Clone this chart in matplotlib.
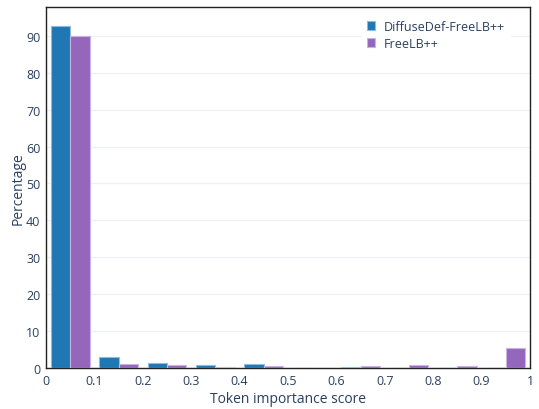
import matplotlib
matplotlib.use("Agg")
import matplotlib.pyplot as plt
import numpy as np

bin_edges = [0.0, 0.1, 0.2, 0.3, 0.4, 0.5, 0.6, 0.7, 0.8, 0.9, 1.0]
series_names = ["DiffuseDef-FreeLB++", "FreeLB++"]
diffusedef = [92.7, 3.0, 1.4, 0.85, 0.95, 0.0, 0.4, 0.0, 0.0, 0.0]
freelb = [90.0, 1.0, 0.8, 0.4, 0.45, 0.0, 0.55, 0.7, 0.55, 5.3]
tick_vals = [0, 0.1, 0.2, 0.3, 0.4, 0.5, 0.6, 0.7, 0.8, 0.9, 1]
tick_labels = ["0", "0.1", "0.2", "0.3", "0.4", "0.5", "0.6", "0.7", "0.8", "0.9", "1"]

colors = ["#1f77b4", "#9467bd"]
edge_colors = ["#8fbbe0", "#c9b3e0"]
text_color = "#2a3f5f"

plt.rcParams['font.family'] = ['Open Sans', 'DejaVu Sans']

fig = plt.figure(figsize=(5.39, 4.10), dpi=100)
ax = fig.add_axes([46/539, 41/410, 484/539, 361/410])

edges = np.array(bin_edges)
lefts = edges[:-1]
bw = edges[1] - edges[0]
gap = 0.2
w = bw * (1 - gap) / 2
for i, (vals, name) in enumerate(zip([diffusedef, freelb], series_names)):
    x = lefts + bw * gap / 2 + i * w
    ax.bar(x, vals, width=w, align='edge', color=colors[i],
           edgecolor=edge_colors[i], linewidth=0.8, label=name, zorder=3)

ax.set_xlim(0, 1)
ax.set_ylim(0, 97.8)
ax.set_yticks(range(0, 100, 10))
ax.set_xticks(tick_vals)
ax.set_xticklabels(tick_labels)
ax.tick_params(length=0, labelsize=9, colors=text_color, pad=4)
ax.yaxis.grid(True, color="#eef1f8", linewidth=1, zorder=0)
ax.set_axisbelow(True)
for s in ax.spines.values():
    s.set_color("#222222")
    s.set_linewidth(1)

ax.set_xlabel("Token importance score", fontsize=10, color=text_color, labelpad=3)
ax.set_ylabel("Percentage", fontsize=10, color=text_color, labelpad=0.5)

leg = ax.legend(loc='upper left', bbox_to_anchor=(0.652, 0.978), fontsize=9,
                frameon=True, handlelength=0.7, handleheight=0.7,
                handletextpad=0.7, borderaxespad=0.0, borderpad=0.4,
                labelspacing=0.3, fancybox=False)
leg.get_frame().set_edgecolor('white')
leg.get_frame().set_facecolor('white')
leg.get_frame().set_alpha(1)
for t in leg.get_texts():
    t.set_color(text_color)

fig.savefig("out.png", dpi=100)
